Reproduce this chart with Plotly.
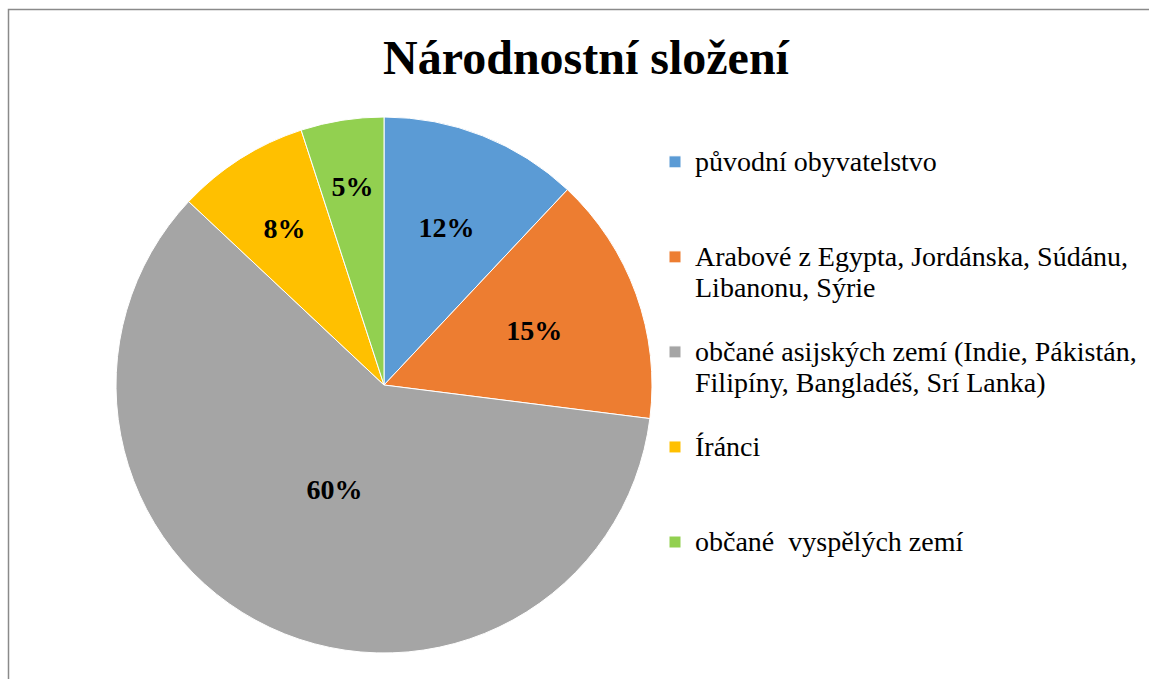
import textwrap
import plotly.graph_objects as go

categories = [
    "původní obyvatelstvo",
    "Arabové z Egypta, Jordánska, Súdánu, Libanonu, Sýrie",
    "občané asijských zemí (Indie, Pákistán, Filipíny, Bangladéš, Srí Lanka)",
    "Íránci",
    "občané  vyspělých zemí",
]
shares = [12, 15, 60, 8, 5]
colors = ["#5B9BD5", "#ED7D31", "#A5A5A5", "#FFC000", "#92D050"]
title_text = "Národnostní složení"

W, H = 1149, 679
SERIF = "Liberation Serif, Times New Roman, serif"


def legend_label(text, width=40, lines=3):
    parts = textwrap.wrap(text, width, replace_whitespace=False)
    parts = [p.replace("  ", "\u00a0 ") for p in parts]
    body = "<br>".join(
        f"<span style='font-family:Liberation Serif, serif;font-size:28px'>{p}</span>"
        for p in parts
    )
    pad = "".join("<br>\u00a0" for _ in range(lines - len(parts)))
    return body + pad


labels = [legend_label(c) for c in categories]

# pie geometry (pixels)
cx, cy, r = 384, 385, 268
r_text = 232


def dom(rad):
    return dict(
        x=[(cx - rad) / W, (cx + rad) / W],
        y=[1 - (cy + rad) / H, 1 - (cy - rad) / H],
    )


fig = go.Figure()
fig.add_trace(
    go.Pie(
        labels=labels,
        values=shares,
        sort=False,
        direction="clockwise",
        rotation=0,
        marker=dict(colors=colors, line=dict(color="white", width=1)),
        textinfo="none",
        domain=dom(r),
        hoverinfo="label+percent",
    )
)
# text-only layer (same data) to place labels like the original best-fit
fig.add_trace(
    go.Pie(
        labels=labels,
        values=shares,
        sort=False,
        direction="clockwise",
        rotation=0,
        marker=dict(colors=["rgba(0,0,0,0)"] * len(shares), line=dict(width=0)),
        texttemplate="%{percent:.0%}",
        textposition="inside",
        insidetextorientation="horizontal",
        textfont=dict(family=SERIF, size=28, color="black", weight="bold"),
        domain=dom(r_text),
        showlegend=False,
        hoverinfo="skip",
    )
)

fig.update_layout(
    width=W,
    height=H,
    margin=dict(l=0, r=0, t=0, b=0),
    paper_bgcolor="white",
    plot_bgcolor="white",
    uniformtext=dict(minsize=28, mode="show"),
    title=dict(
        text=f"<b>{title_text}</b>",
        font=dict(family=SERIF, size=48, color="black"),
        x=586 / W,
        xanchor="center",
        y=1 - 57.5 / H,
        yanchor="middle",
        xref="paper",
        yref="paper",
    ),
    legend=dict(
        x=655 / W,
        xanchor="left",
        y=1 - 140 / H,
        yanchor="top",
        font=dict(family=SERIF, size=23.6, color="black"),
        valign="top",
        bgcolor="rgba(0,0,0,0)",
        traceorder="normal",
    ),
    shapes=[
        dict(
            type="rect",
            xref="paper",
            yref="paper",
            x0=8.5 / W,
            x1=1.05,
            y0=-0.05,
            y1=1 - 9.5 / H,
            line=dict(color="#8a8a8a", width=1.5),
            fillcolor="rgba(0,0,0,0)",
            layer="above",
        )
    ],
)

fig.write_html(
    "out.html",
    config={"displayModeBar": False},
    post_script="document.body.style.margin='0';",
)
